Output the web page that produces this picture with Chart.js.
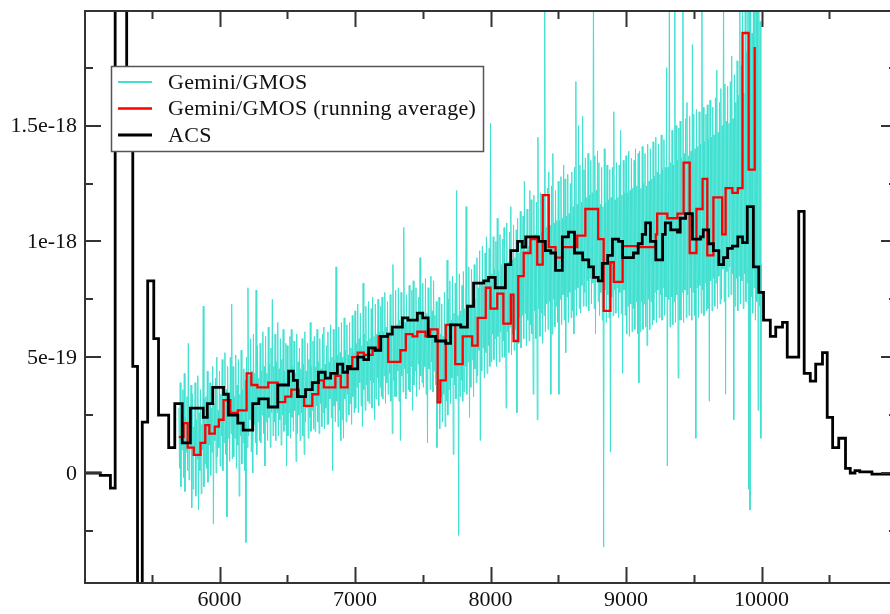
<!DOCTYPE html>
<html>
<head>
<meta charset="utf-8">
<script src="https://cdn.jsdelivr.net/npm/chart.js@4.4.1/dist/chart.umd.min.js"></script>
<style>
  html, body { margin: 0; padding: 0; overflow: hidden; background: #fff; }
  canvas { display: block; }
</style>
</head>
<body>
<canvas id="spec" width="910" height="614"></canvas>
<script>
// flux values are in units of 1e-19, wavelength in Angstrom

// ACS spectrum (histogram steps: bin start wavelength, flux)
const acsX = [
  5000, 5120, 5195, 5230, 5315, 5360, 5395, 5430, 5470, 5515,
  5550, 5625, 5670, 5725, 5785, 5880, 5910, 5950, 6030, 6065,
  6135, 6175, 6245, 6290, 6360, 6430, 6510, 6545, 6575, 6635,
  6685, 6730, 6780, 6820, 6870, 6910, 6945, 6965, 7020, 7065,
  7100, 7150, 7190, 7240, 7275, 7350, 7390, 7460, 7500, 7540,
  7595, 7670, 7705, 7780, 7830, 7875, 7950, 7985, 8035, 8110,
  8150, 8200, 8235, 8260, 8355, 8405, 8445, 8480, 8530, 8575,
  8620, 8680, 8725, 8760, 8795, 8825, 8865, 8900, 8945, 8975,
  9055, 9090, 9120, 9145, 9180, 9220, 9270, 9290, 9330, 9380,
  9400, 9440, 9490, 9550, 9570, 9610, 9645, 9685, 9720, 9750,
  9785, 9825, 9860, 9895, 9940, 9980, 10015, 10065, 10105, 10155,
  10190, 10275, 10315, 10360, 10400, 10450, 10485, 10525, 10570, 10620,
  10655, 10690, 10725, 10815, 11000
];
const acsY = [
  0, -0.1, -0.65, 40, 15.5, 4.6, -10, 2.2, 8.3, 5.8,
  2.5, 1.1, 3.0, 1.3, 2.8, 2.4, 3.0, 3.7, 3.4, 2.5,
  2.15, 1.85, 3.0, 3.2, 2.85, 3.8, 4.4, 4.0, 3.3, 3.6,
  3.9, 4.35, 4.1, 4.3, 4.7, 4.35, 4.6, 4.5, 5.0, 4.9,
  5.4, 5.3, 5.9, 6.0, 6.3, 6.7, 6.6, 6.9, 6.7, 5.9,
  5.7, 5.6, 6.4, 6.3, 7.2, 8.2, 8.3, 8.45, 8.0, 9.0,
  9.6, 10.0, 9.75, 10.2, 10.0, 9.6, 9.5, 8.75, 10.2, 10.4,
  9.5, 9.2, 8.9, 8.45, 8.3, 9.05, 9.4, 10.1, 10.0, 9.3,
  9.5, 9.9, 10.3, 10.8, 10.0, 9.2, 10.3, 10.8, 10.5, 10.4,
  11.0, 11.2, 10.1, 10.2, 10.5, 9.9, 9.6, 9.0, 9.3, 9.7,
  9.8, 10.2, 9.95, 11.5, 8.9, 7.8, 6.6, 5.9, 6.3, 6.5,
  5.0, 11.3, 4.3, 3.97, 4.7, 5.2, 2.4, 1.1, 1.5, 0.2,
  0, 0.1, 0.05, -0.05, -0.05
];

// Gemini/GMOS running average (histogram steps)
const avgX = [
  5700, 5735, 5765, 5810, 5860, 5895, 5925, 5965, 5995, 6030,
  6080, 6135, 6200, 6235, 6280, 6360, 6430, 6485, 6530, 6585,
  6625, 6685, 6730, 6770, 6820, 6855, 6895, 6945, 6980, 7020,
  7065, 7130, 7175, 7245, 7335, 7375, 7425, 7460, 7520, 7555,
  7610, 7630, 7670, 7740, 7795, 7865, 7905, 7965, 8000, 8050,
  8095, 8150, 8170, 8205, 8245, 8295, 8345, 8385, 8430, 8480,
  8530, 8640, 8700, 8795, 8835, 8885, 8910, 8975, 9085, 9220,
  9230, 9305, 9380, 9425, 9470, 9520, 9565, 9600, 9645, 9710,
  9735, 9785, 9825, 9860, 9905, 9950
];
const avgY = [
  1.55, 2.15, 1.1, 0.78, 1.3, 2.07, 1.7, 2.0, 2.3, 3.15,
  2.6, 2.7, 4.3, 3.8, 3.7, 3.9, 3.06, 3.3, 3.6, 3.3,
  2.9, 3.4, 4.0, 3.7, 3.7, 4.2, 3.7, 4.6, 5.0, 5.2,
  5.1, 5.3, 5.9, 4.8, 5.3, 6.0, 5.9, 6.1, 5.9, 6.2,
  3.05, 4.0, 6.4, 4.7, 5.9, 5.5, 6.7, 8.0, 7.1, 7.75,
  6.45, 7.7, 5.7, 8.5, 9.5, 10.1, 9.0, 12.0, 9.75, 9.3,
  9.75, 10.25, 11.4, 10.1, 7.0, 9.1, 8.25, 9.8, 9.75, 10.3,
  11.2, 11.0, 11.2, 13.4, 9.5, 11.4, 12.7, 9.4, 11.9, 10.3,
  12.3, 12.1, 12.3, 19.0, 13.1, 18.4
];

// Gemini/GMOS spectrum, 5 A sampling from 5700 A (one row = 100 A)
const gmosStart = 5700;
const gmosStep = 5;
const gmosY = [
  2.8, 0.2, 3.9, -0.6, 2.1, 1.0, 3.6, -0.2, 4.3, -0.8, 2.4, 0.9, 3.3, 0.1, 5.6, -0.3, 2.2, 1.1, 3.8, -1.5,
  3.4, -0.7, 2.0, 0.8, 3.9, -1.0, 2.3, 0.6, 4.2, -1.6, 2.6, 0.1, 3.6, -0.9, 2.1, 1.0, 7.2, -0.6, 3.2, 0.4,
  3.3, 0.2, 4.4, -0.4, 2.6, 1.2, 3.9, -0.1, 2.8, 0.9, 4.6, -2.2, 3.0, 1.4, 4.1, 0.0, 5.0, 0.7, 2.7, 1.1,
  4.4, 0.3, 3.4, 1.6, 4.9, 0.1, 3.1, 1.3, 5.2, 0.8, 3.6, -1.9, 4.6, 1.5, 3.3, 0.5, 5.0, 1.7, 7.3, 0.6,
  4.6, 0.7, 3.3, 1.5, 5.1, 0.2, 3.8, 1.2, 4.9, -1.0, 3.4, 1.6, 5.3, 0.4, 3.6, 1.3, 4.5, 0.1, 4.0, -3.0,
  5.0, 1.1, 8.0, 1.6, 4.2, 2.3, 5.8, 0.9, 4.4, 0.0, 6.0, 2.1, 4.3, 1.3, 7.9, 0.8, 5.5, 2.2, 4.1, 1.4,
  5.6, 1.3, 4.4, 2.5, 6.1, 1.7, 4.6, 0.3, 5.9, 2.2, 4.3, 1.4, 6.3, 2.4, 4.7, 1.1, 5.4, 2.6, 7.5, 1.6,
  4.6, 2.2, 6.0, 1.4, 4.8, 2.6, 6.5, 1.6, 4.5, 2.3, 5.8, 1.2, 4.9, 2.5, 6.2, 1.8, 4.4, 2.1, 5.6, 0.3,
  5.5, 1.6, 4.4, 2.6, 5.9, 1.5, 6.2, 2.4, 4.6, 1.8, 5.7, 2.7, 4.3, 0.5, 6.0, 1.7, 4.8, 2.5, 5.4, 1.4,
  4.5, 2.6, 5.8, 1.6, 4.7, 0.8, 6.1, 2.2, 4.4, 2.8, 5.6, 1.5, 4.9, 2.4, 6.5, 1.8, 4.6, 2.7, 5.7, 1.9,
  5.9, 1.8, 4.6, 2.9, 6.2, 2.2, 4.8, 1.7, 5.8, 3.0, 4.5, 2.0, 6.0, 2.6, 6.3, 1.9, 4.7, 2.8, 5.5, 2.1,
  6.1, 2.1, 4.8, 3.2, 6.4, 2.4, 5.0, 0.1, 6.2, 2.9, 4.9, 2.2, 8.9, 3.1, 5.1, 2.0, 6.3, 2.7, 5.2, 1.4,
  6.5, 2.3, 5.0, 1.5, 6.7, 3.2, 5.3, 2.2, 6.4, 3.4, 5.1, 2.5, 6.5, 3.0, 5.4, 2.1, 6.8, 3.3, 5.2, 2.6,
  7.0, 2.8, 5.6, 3.7, 7.3, 2.6, 5.8, 3.9, 6.9, 2.9, 5.5, 2.0, 8.2, 3.6, 6.0, 2.7, 7.2, 3.8, 5.7, 3.1,
  7.4, 3.0, 5.8, 4.0, 7.1, 2.8, 7.6, 3.9, 5.9, 2.3, 7.3, 3.2, 6.0, 4.1, 7.5, 2.9, 6.1, 3.7, 7.2, 3.3,
  7.6, 3.2, 6.1, 4.2, 7.8, 3.0, 6.3, 3.9, 7.4, 3.4, 6.0, 4.3, 7.7, 3.1, 6.4, 1.7, 9.0, 4.0, 6.2, 3.3,
  7.9, 3.3, 6.4, 4.4, 8.0, 3.1, 6.6, 1.4, 7.8, 4.2, 6.3, 3.5, 10.6, 4.5, 6.5, 3.2, 7.7, 4.3, 6.7, 3.6,
  8.1, 3.5, 6.6, 4.6, 7.9, 2.7, 8.3, 3.8, 6.5, 4.4, 8.0, 3.3, 6.8, 4.7, 7.6, 3.6, 9.3, 4.2, 6.9, 3.9,
  8.2, 3.7, 6.7, 4.6, 8.4, 3.4, 6.9, 1.3, 8.0, 4.5, 6.6, 3.6, 8.5, 4.8, 7.0, 3.5, 8.3, 4.4, 6.8, 3.8,
  7.4, 1.1, 5.8, 3.0, 7.6, 1.9, 6.0, 3.3, 7.3, 2.2, 5.9, 3.4, 7.8, 2.0, 6.2, 3.1, 9.2, 2.5, 7.5, 3.6,
  8.3, 3.0, 6.6, 4.1, 8.5, 0.8, 6.9, 3.8, 8.2, 3.2, 12.2, 4.2, 6.8, -2.7, 8.6, 3.3, 7.0, 4.0, 8.1, 3.1,
  8.7, 3.5, 7.1, 4.6, 11.5, 3.4, 7.3, 4.8, 8.9, 2.4, 7.2, 3.7, 8.8, 4.9, 7.4, 3.3, 9.0, 4.5, 7.5, 3.9,
  9.3, 4.2, 8.0, 5.3, 9.6, 1.4, 8.2, 4.4, 9.8, 5.4, 8.1, 4.1, 9.5, 5.2, 10.2, 4.3, 8.3, 5.5, 9.7, 4.6,
  15.1, 4.8, 8.6, 6.0, 10.2, 4.9, 8.8, 5.8, 10.0, 4.6, 11.0, 5.9, 8.7, 4.8, 10.3, 6.1, 9.0, 5.0, 10.1, 5.7,
  10.6, 5.0, 9.0, 2.8, 10.8, 6.1, 9.1, 5.2, 10.4, 6.3, 11.5, 5.1, 9.2, 6.0, 10.7, 5.3, 9.3, 6.2, 10.5, 2.6,
  11.0, 5.6, 9.5, 6.7, 11.3, 5.4, 9.7, 6.8, 11.1, 5.8, 12.6, 6.9, 9.6, 5.5, 11.4, 6.6, 9.8, 5.7, 12.2, 6.4,
  11.8, 6.0, 10.1, 3.4, 12.0, 7.0, 10.3, 5.8, 11.7, 2.3, 14.5, 7.1, 10.2, 5.9, 12.1, 6.9, 10.4, 5.6, 11.9, 6.8,
  22.0, 6.1, 10.6, 7.3, 12.3, 6.2, 13.0, 7.4, 10.7, 3.4, 12.4, 6.0, 13.8, 7.5, 10.8, 6.3, 12.2, 7.2, 10.9, 6.5,
  12.6, 3.4, 10.9, 7.5, 12.8, 6.4, 11.0, 7.7, 13.3, 6.6, 12.7, 5.2, 11.1, 7.6, 12.9, 6.5, 11.2, 7.8, 12.5, 6.7,
  13.0, 7.0, 11.5, 6.0, 13.2, 7.9, 16.9, 6.8, 11.6, 8.0, 15.0, 7.1, 13.3, 6.9, 11.7, 8.1, 15.4, 7.2, 13.1, 7.8,
  13.6, 7.2, 11.9, 8.3, 13.8, 7.0, 12.0, 8.4, 13.5, 7.3, 12.1, 8.2, 22.0, 7.1, 13.7, 6.0, 12.2, 8.5, 13.9, 7.4,
  13.4, 6.8, 11.6, 7.8, 13.2, 6.6, 11.5, -3.2, 14.0, 7.9, 11.7, 6.5, 13.3, 7.7, 11.8, 6.7, 13.1, 0.9, 11.9, 7.6,
  13.2, 6.8, 15.6, 7.9, 11.8, 6.9, 13.4, 8.0, 11.9, 6.7, 13.3, 7.8, 14.8, 6.9, 12.0, 4.3, 13.5, 7.9, 12.1, 6.8,
  13.7, 6.0, 12.1, 7.2, 13.9, 5.9, 12.2, 7.3, 13.6, 6.1, 12.3, 7.1, 13.5, 6.2, 14.0, 7.4, 12.4, 6.0, 13.8, 3.9,
  13.9, 6.1, 12.3, 7.4, 14.1, 6.2, 12.5, 7.3, 13.8, 6.3, 12.4, 5.5, 14.2, 7.5, 12.6, 6.2, 14.0, 7.4, 12.7, 6.4,
  14.3, 6.6, 12.8, 7.8, 14.5, 6.5, 13.0, 7.9, 14.2, 6.7, 12.9, 7.7, 14.6, 6.6, 13.1, 8.0, 14.4, 6.8, 13.2, 7.6,
  17.5, 0.3, 13.2, 7.5, 22.0, 6.3, 13.4, 7.6, 14.8, 6.4, 13.3, 7.4, 22.0, 6.5, 15.0, 7.7, 13.5, 4.1, 14.9, 6.6,
  15.2, 6.6, 13.6, 7.8, 22.0, 6.5, 13.8, 7.9, 15.3, 6.7, 16.0, 7.7, 13.7, 6.8, 15.4, 8.0, 13.9, 6.6, 18.5, 7.8,
  15.5, 6.8, 14.0, 1.5, 15.7, 8.0, 14.1, 6.7, 15.6, 8.1, 14.2, 6.9, 22.0, 7.9, 15.8, 6.8, 14.3, 8.2, 15.5, 7.0,
  15.9, 7.1, 14.4, 3.1, 16.1, 8.3, 14.5, 7.0, 15.8, 8.4, 14.6, 7.2, 16.2, 8.2, 17.4, 7.1, 14.7, 8.5, 16.0, 7.3,
  16.6, 7.5, 15.0, 8.8, 22.0, 7.4, 16.8, 3.4, 15.2, 8.7, 16.7, 7.6, 15.1, 8.9, 16.9, 7.7, 18.0, 8.6, 15.3, 2.3,
  17.2, 7.2, 16.0, 8.4, 17.8, 7.0, 16.3, 8.5, 22.0, 7.3, 17.6, 8.3, 22.0, 7.1, 16.4, 8.6, 22.0, 7.4, 18.2, 8.2,
  22.0, -0.7, 22.0, -1.6, 22.0, 7.6, 19.0, 6.9, 22.0, 8.0, 20.0, 6.6, 22.0, 7.4, 21.0, 2.7, 22.0, 7.2, 19.5, 1.5,
  9.0
];

// axes
const xMin = 5000, xMax = 11000;
const yMin = -4.75, yMax = 19.95;
const xMajor = [6000, 7000, 8000, 9000, 10000];
const xMinor = [5500, 6500, 7500, 8500, 9500, 10500];
const yMajor = [0, 5, 10, 15];
const yMajorText = ['0', '5e-19', '1e-18', '1.5e-18'];
const yMinor = [-2.5, 2.5, 7.5, 12.5, 17.5];

const legendNames = ['Gemini/GMOS', 'Gemini/GMOS (running average)', 'ACS'];
const seriesColors = ['#40e0d0', '#ff0000', '#000000'];

const FONT = '22px "Liberation Serif", "Times New Roman", serif';

function toPoints(xs, ys) {
  return xs.map((x, i) => ({ x: x, y: ys[i] }));
}

const gmosPoints = gmosY.map((v, i) => ({ x: gmosStart + i * gmosStep, y: v }));

const decorations = {
  id: 'decorations',
  afterDatasetsDraw(chart) {
    const ctx = chart.ctx;
    const a = chart.chartArea;
    const xs = chart.scales.x;
    const ys = chart.scales.y;
    ctx.save();

    // legend box
    ctx.fillStyle = '#ffffff';
    ctx.fillRect(111, 66, 373, 86);
    ctx.strokeStyle = '#555555';
    ctx.lineWidth = 1.5;
    ctx.strokeRect(111.5, 66.5, 372, 85);
    const rows = [82, 108.5, 135];
    ctx.font = FONT;
    ctx.textBaseline = 'middle';
    ctx.textAlign = 'left';
    if ('letterSpacing' in ctx) ctx.letterSpacing = '0.35px';
    legendNames.forEach((name, i) => {
      ctx.strokeStyle = seriesColors[i];
      ctx.lineWidth = i === 0 ? 2 : (i === 1 ? 2.5 : 3);
      ctx.beginPath();
      ctx.moveTo(118, rows[i]);
      ctx.lineTo(152, rows[i]);
      ctx.stroke();
      ctx.fillStyle = '#111111';
      ctx.fillText(name, 168, rows[i] + 1);
    });
    if ('letterSpacing' in ctx) ctx.letterSpacing = '0px';

    // frame
    ctx.strokeStyle = '#333333';
    ctx.lineWidth = 2;
    ctx.strokeRect(a.left + 1, a.top, a.right - a.left - 1, a.bottom - a.top);

    // inward ticks
    const tick = (list, len) => {
      list.forEach(v => {
        const px = Math.round(xs.getPixelForValue(v)) + 0.5;
        ctx.beginPath();
        ctx.moveTo(px, a.bottom);
        ctx.lineTo(px, a.bottom - len);
        ctx.moveTo(px, a.top);
        ctx.lineTo(px, a.top + len);
        ctx.stroke();
      });
    };
    const ytick = (list, len) => {
      list.forEach(v => {
        const py = Math.round(ys.getPixelForValue(v));
        ctx.beginPath();
        ctx.moveTo(a.left + 1, py);
        ctx.lineTo(a.left + 1 + len, py);
        ctx.moveTo(a.right, py);
        ctx.lineTo(a.right - len, py);
        ctx.stroke();
      });
    };
    tick(xMajor, 16);
    tick(xMinor, 8);
    ytick(yMajor, 16);
    ytick(yMinor, 8);

    // tick labels
    ctx.fillStyle = '#111111';
    ctx.font = FONT;
    ctx.textAlign = 'center';
    ctx.textBaseline = 'middle';
    xMajor.forEach(v => {
      ctx.fillText(String(v), xs.getPixelForValue(v), a.bottom + 17);
    });
    ctx.textAlign = 'right';
    yMajor.forEach((v, i) => {
      ctx.fillText(yMajorText[i], a.left - 7, ys.getPixelForValue(v) + 1);
    });
    ctx.restore();
  }
};

new Chart(document.getElementById('spec'), {
  type: 'line',
  data: {
    datasets: [
      {
        label: legendNames[0],
        data: gmosPoints,
        borderColor: seriesColors[0],
        borderWidth: 1,
        pointRadius: 0,
        order: 3
      },
      {
        label: legendNames[1],
        data: toPoints(avgX, avgY),
        borderColor: seriesColors[1],
        borderWidth: 2.3,
        pointRadius: 0,
        stepped: 'before',
        order: 2
      },
      {
        label: legendNames[2],
        data: toPoints(acsX, acsY),
        borderColor: seriesColors[2],
        borderWidth: 2.8,
        pointRadius: 0,
        stepped: 'before',
        order: 1
      }
    ]
  },
  options: {
    responsive: false,
    animation: false,
    devicePixelRatio: 1,
    events: [],
    layout: { padding: { left: 84, top: 11, right: 13, bottom: 31 } },
    scales: {
      x: { type: 'linear', min: xMin, max: xMax, display: false },
      y: { type: 'linear', min: yMin, max: yMax, display: false }
    },
    plugins: {
      legend: { display: false },
      tooltip: { enabled: false }
    }
  },
  plugins: [decorations]
});
</script>
</body>
</html>
